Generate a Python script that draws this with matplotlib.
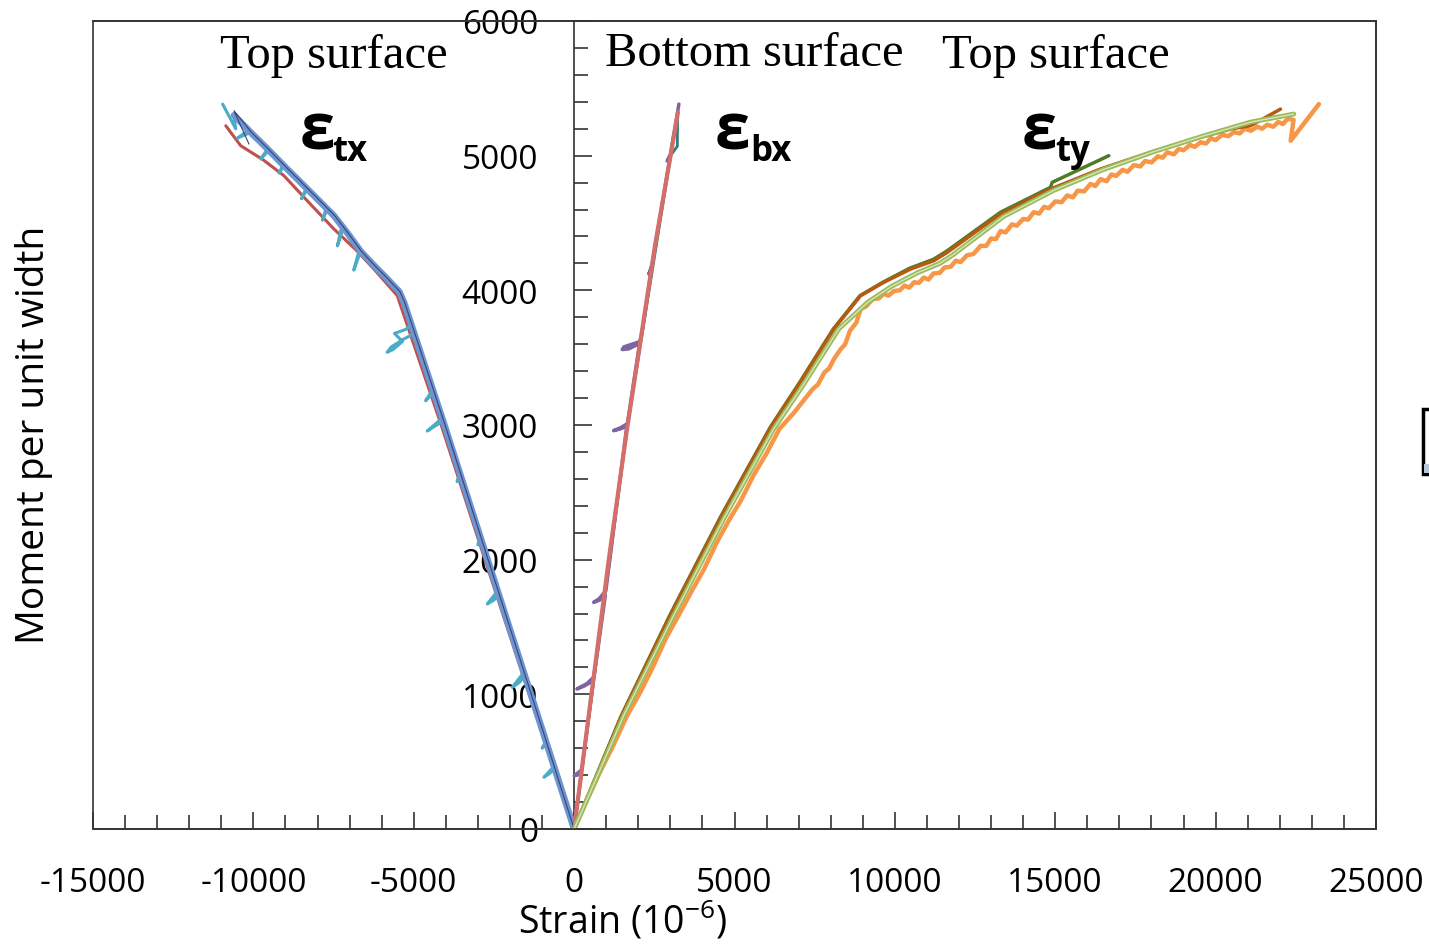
import matplotlib
matplotlib.use('Agg')
import matplotlib.pyplot as plt
from matplotlib.ticker import MultipleLocator
from matplotlib.patches import Rectangle

plt.rcParams['font.family'] = ['Open Sans', 'DejaVu Sans']
plt.rcParams['mathtext.fontset'] = 'custom'
plt.rcParams['mathtext.rm'] = 'Open Sans'
plt.rcParams['axes.unicode_minus'] = False
plt.rcParams['lines.solid_joinstyle'] = 'round'
plt.rcParams['lines.solid_capstyle'] = 'round'

# ---- data: strain (10^-6) vs moment per unit width ----
# top surface, x direction (negative strain)
tx_red_x = [0, -1400, -2780, -4130, -5408, -5511, -6241, -6800, -7488, -8300, -9046, -9700, -10395, -10860]
tx_red_y = [0, 1000, 2000, 2990, 3886, 3960, 4158, 4300, 4455, 4660, 4851, 4970, 5074, 5222]

tx_cyan_x = [0, -300, -600, -780, -941, -650, -850, -1000, -880, -1535, -1700, -1927, -1580,
             -2330, -2500, -2706, -2380, -2900, -3000, -2930, -3540, -3650, -3570,
             -4080, -4350, -4580, -4120, -4380, -4630, -4420,
             -4965, -5300, -5700, -5830, -5650, -5350, -5600, -5250, -5060,
             -5305, -5450, -5823, -6300, -6655, -6870, -6700, -7200, -7380, -7250,
             -7700, -7850, -7730, -8317, -8500, -8350, -9046, -9200, -9070,
             -9520, -9770, -9560, -10085, -10500, -10150, -10605, -10550, -10960]
tx_cyan_y = [0, 222, 445, 410, 384, 460, 630, 600, 650, 1138, 1090, 1052, 1160,
             1745, 1700, 1671, 1770, 2150, 2110, 2170, 2620, 2580, 2640,
             3030, 2990, 2955, 3050, 3243, 3180, 3260,
             3680, 3640, 3580, 3540, 3560, 3620, 3680, 3710, 3750,
             3911, 3990, 4084, 4200, 4290, 4150, 4300, 4460, 4330, 4470,
             4600, 4520, 4610, 4752, 4680, 4760, 4925, 4870, 4935,
             5040, 4975, 5050, 5173, 5130, 5190, 5290, 5200, 5383]

tx_blue_x = [0, -1349, -2698, -4030, -5305, -5450, -5823, -6300, -6655, -7050, -7488, -8317,
             -9046, -9600, -10085, -10605]
tx_blue_y = [0, 1000, 2000, 2990, 3911, 3990, 4084, 4200, 4290, 4420, 4554, 4752,
             4925, 5060, 5173, 5300]

tx_navy_x = [0, -1335, -2680, -4010, -5285, -5430, -5800, -6280, -6630, -7030, -7460, -8290,
             -9020, -9580, -10060, -10605, -10137]
tx_navy_y = [0, 1000, 2000, 2990, 3911, 3990, 4084, 4200, 4290, 4420, 4554, 4752,
             4925, 5060, 5173, 5334, 5086]

# bottom surface, x direction
bx_line_x = [0, 540, 1080, 1650, 2520, 3008, 3237]
bx_line_y = [0, 1000, 2000, 2970, 4331, 5000, 5322]

bx_purple_x = [0, 230, 100, 0, 240, 600, 300, 87, 400, 620, 972, 800, 608, 780, 990,
               1640, 1420, 1231, 1450, 1660, 2050, 1800, 1550, 1500, 1700, 2000, 2090,
               2420, 2330, 2430, 2990, 2900, 3000, 3267]
bx_purple_y = [0, 420, 400, 396, 440, 1100, 1060, 1040, 1080, 1130, 1733, 1700, 1683, 1710, 1770,
               2990, 2970, 2958, 2980, 3010, 3620, 3600, 3580, 3560, 3565, 3600, 3650,
               4170, 4121, 4190, 4990, 4960, 5010, 5383]

bx_teal_x = [0, 1650, 3008, 3217, 3230]
bx_teal_y = [0, 2970, 5000, 5070, 5322]

# top surface, y direction
ty_orange_x = [0, 400, 800, 1200, 1650, 2050, 2450, 2850, 3250, 3650, 4050, 4450, 4850, 5200, 5600,
               6000, 6400, 6850, 7270, 7450, 7600, 7800, 7950, 8100, 8300, 8450, 8600, 8800,
               8930, 9100, 9250, 9345, 9500, 9650, 9800, 9970, 10150, 10300, 10450, 10600,
               10750, 10900, 11050, 11200, 11400, 11550, 11740, 11900, 12050, 12250, 12450,
               12670, 12850, 13000, 13150, 13295, 13450, 13650, 13800, 14000, 14150, 14330,
               14500, 14650, 14800, 15000, 15200, 15375, 15550, 15700, 15900, 16100, 16250,
               16412, 16600, 16750, 16900, 17100, 17250, 17450, 17650, 17800, 18000, 18200,
               18350, 18490, 18700, 18850, 19000, 19200, 19350, 19530, 19700, 19850, 20000,
               20200, 20400, 20570, 20750, 20900, 21100, 21300, 21450, 21610, 21800, 21950,
               22100, 22250, 22430, 22340, 23220]
ty_orange_y = [0, 215, 420, 610, 841, 1010, 1200, 1410, 1584, 1760, 1930, 2130, 2302, 2440, 2630,
               2790, 2970, 3090, 3217, 3270, 3300, 3390, 3420, 3490, 3560, 3600, 3700, 3760,
               3861, 3880, 3920, 3936, 3940, 3975, 3960, 3995, 4000, 4035, 4020, 4060,
               4055, 4095, 4080, 4125, 4130, 4170, 4175, 4220, 4210, 4260, 4270,
               4330, 4330, 4385, 4380, 4440, 4430, 4490, 4480, 4530, 4525, 4580,
               4570, 4620, 4610, 4660, 4655, 4705, 4690, 4740, 4735, 4790, 4775,
               4826, 4810, 4860, 4850, 4895, 4880, 4930, 4920, 4960, 4950, 4995,
               4985, 5025, 5010, 5050, 5040, 5080, 5065, 5100, 5090, 5130, 5115,
               5155, 5145, 5175, 5165, 5200, 5185, 5215, 5200, 5230, 5215, 5250,
               5235, 5275, 5265, 5111, 5383]

ty_brown_x = [0, 1480, 3030, 4590, 6140, 7060, 8100, 8930, 9657, 10490, 11215, 11633, 13295,
              14853, 16412, 17970, 19530, 20500, 21090, 22024]
ty_brown_y = [0, 841, 1600, 2320, 2985, 3320, 3713, 3960, 4060, 4158, 4220, 4282, 4567,
              4752, 4901, 5025, 5136, 5200, 5222, 5346]

ty_dkgreen_x = [0, 1470, 3010, 4570, 6120, 7040, 8080, 8910, 9640, 10470, 11200, 11620, 13295,
                14853, 14905, 16670]
ty_dkgreen_y = [0, 841, 1600, 2320, 2985, 3320, 3713, 3960, 4062, 4165, 4230, 4292, 4580,
                4765, 4802, 5000]

ty_green_x = [0, 1543, 3101, 4660, 6219, 7150, 8250, 9150, 9900, 10700, 11400, 11800, 13400,
              14950, 16500, 18050, 19600, 21100, 22438]
ty_green_y = [0, 841, 1584, 2302, 2970, 3300, 3713, 3911, 4030, 4130, 4200, 4262, 4550,
              4742, 4897, 5028, 5145, 5250, 5309]

x_ticks = [-15000, -10000, -5000, 0, 5000, 10000, 15000, 20000, 25000]
y_ticks = [0, 1000, 2000, 3000, 4000, 5000, 6000]

W, H = 1429, 945
fig = plt.figure(figsize=(W / 100, H / 100), dpi=100)
ax = fig.add_axes([93 / W, 1 - 830 / H, (1376 - 93) / W, (830 - 22) / H])

# left group
ax.plot(tx_red_x, tx_red_y, color='#C0504D', lw=2.2, zorder=2)
ax.plot(tx_cyan_x, tx_cyan_y, color='#4BACC6', lw=2.2, zorder=3)
ax.plot(tx_blue_x, tx_blue_y, color='#6C96D0', lw=4.8, zorder=4)
ax.plot(tx_navy_x, tx_navy_y, color='#3E3F78', lw=0.8, zorder=5)

# middle group
ax.plot(bx_teal_x, bx_teal_y, color='#2F7F7F', lw=2, zorder=2)
ax.plot(bx_purple_x, bx_purple_y, color='#8064A2', lw=2.5, zorder=3)
ax.plot(bx_line_x, bx_line_y, color='#D46E68', lw=3, zorder=4)

# right group
ax.plot(ty_orange_x, ty_orange_y, color='#F79646', lw=3.2, zorder=2)
ax.plot(ty_dkgreen_x, ty_dkgreen_y, color='#4F7A28', lw=2.5, zorder=3)
ax.plot(ty_brown_x, ty_brown_y, color='#B65A10', lw=2.5, zorder=4)
ax.plot(ty_green_x, ty_green_y, color='#9BBB59', lw=3.5, zorder=5)
ax.plot(ty_green_x, ty_green_y, color='#D7E4BD', lw=1, zorder=6)

ax.set_xlim(-15000, 25000)
ax.set_ylim(0, 6000)
ax.set_xticks(x_ticks)
ax.set_yticks(y_ticks)
ax.xaxis.set_minor_locator(MultipleLocator(1000))
ax.yaxis.set_minor_locator(MultipleLocator(200))

ax.spines['left'].set_position(('data', 0))
for s in ax.spines.values():
    s.set_color('#333333')
    s.set_linewidth(1.2)
ax.add_patch(Rectangle((0, 0), 1, 1, transform=ax.transAxes, fill=False,
                       edgecolor='#333333', lw=1.2, clip_on=False, zorder=10))

ax.tick_params(axis='x', which='major', direction='in', length=12, width=1.2,
               pad=27, labelsize=24, color='#333333')
ax.tick_params(axis='x', which='minor', direction='in', length=10, width=1.2, color='#333333')
ax.tick_params(axis='y', which='major', direction='in', length=13, width=1.2,
               pad=26, labelsize=24, color='#333333')
ax.tick_params(axis='y', which='minor', direction='in', length=10, width=1.2, color='#333333')

# annotations
serif = 'Liberation Serif'
fig.text(220 / W, 1 - 68 / H, 'Top surface', family=serif, fontsize=35, va='baseline')
fig.text(605 / W, 1 - 66 / H, 'Bottom surface', family=serif, fontsize=35, va='baseline')
fig.text(942 / W, 1 - 68 / H, 'Top surface', family=serif, fontsize=35, va='baseline')

for ex, sx, sub in [(300, 332, 'tx'), (715, 750, 'bx'), (1022, 1055, 'ty')]:
    fig.text(ex / W, 1 - 150 / H, 'ε', fontsize=46, fontweight='bold', va='baseline')
    fig.text(sx / W, 1 - 161 / H, sub, fontsize=25, fontweight='bold', va='baseline')

fig.text(623 / W, 1 - 921 / H, 'Strain (10$^{-6}$)', fontsize=27, ha='center', va='center')
fig.text(34 / W, 1 - 435 / H, 'Moment per unit width', fontsize=28, rotation=90,
         ha='center', va='center')

# cut-off legend box at the right edge
fig.patches.append(Rectangle((1423 / W, 1 - 475 / H), 12 / W, 65 / H, transform=fig.transFigure,
                             facecolor='white', edgecolor='black', lw=2.5))
fig.patches.append(Rectangle((1424 / W, 1 - 474 / H), 10 / W, 9 / H, transform=fig.transFigure,
                             facecolor='#B8C6DA', edgecolor='none'))

fig.savefig('out.png', dpi=100)
